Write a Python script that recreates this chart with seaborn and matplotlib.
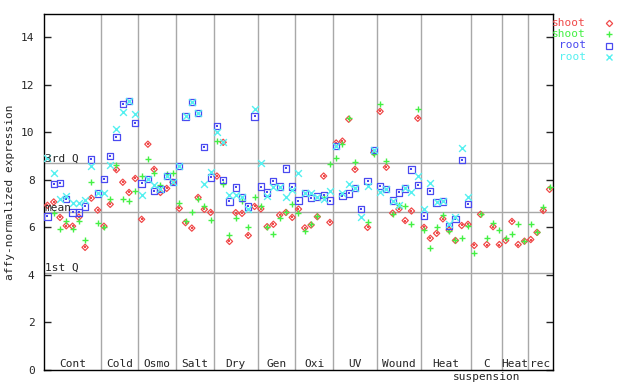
import numpy as np
import pandas as pd
import matplotlib
matplotlib.use("Agg")
import matplotlib.pyplot as plt
import seaborn as sns

# groups along the x axis (number of samples in each)
groups = ['Cont', 'Cold', 'Osmo', 'Salt', 'Dry', 'Gen', 'Oxi', 'UV', 'Wound', 'Heat', 'C', 'Heat', 'rec']
group_sizes = [9, 6, 6, 6, 7, 6, 6, 7, 7, 8, 5, 4, 4]

nan = np.nan
shoot_red = [6.93, 7.07, 6.42, 6.07, 6.05, 6.43, 5.16, 7.23, 6.73,
             6.05, 6.97, 8.43, 7.90, 7.47, 8.06,
             6.34, 9.50, 8.44, 7.47, 7.64, 7.90,
             6.80, 6.20, 5.97, 7.26, 6.76, 6.63,
             8.16, 9.58, 5.41, 6.62, 6.59, 5.66, 6.88,
             6.78, 6.03, 6.13, 6.52, 6.63, 6.42,
             6.77, 5.98, 6.10, 6.45, 8.16, 6.21,
             9.55, 9.63, 10.55, 8.44, nan, 6.00, 9.15,
             10.88, 8.53, 6.60, 6.77, 6.29, 6.69, 10.59,
             6.00, 5.54, 5.75, 6.36, 5.89, 5.45, 6.08, 6.13,
             5.24, 6.55, 5.28, 6.03, 5.28,
             5.45, 6.25, 5.28, 5.42,
             5.49, 5.79, 6.71, 7.60]
shoot_green = [nan, 6.59, 5.93, 6.27, 5.93, 6.27, 5.47, 7.89, 6.17,
               6.03, 7.18, 8.61, 7.18, 7.10, 7.52,
               8.16, 8.87, 8.30, 7.77, 8.24, 8.27,
               7.01, 6.27, 6.63, 7.18, 6.90, 6.31,
               9.62, 7.82, 5.66, 6.38, 7.09, 6.00, 7.30,
               6.88, 6.03, 5.71, 6.41, 6.66, 6.97,
               6.62, 5.84, 6.13, 6.50, 7.30, 8.66,
               8.90, 9.49, 10.59, 8.74, nan, 6.21, 9.07,
               11.18, 8.79, 6.56, 6.94, 6.90, 6.15, 11.00,
               5.88, 5.12, 6.00, 6.54, 5.83, 5.45, 5.54, 6.05,
               4.92, 6.55, 5.54, 6.17, 5.87,
               5.56, 5.72, 6.13, 5.42,
               6.13, 5.79, 6.84, 7.68]
root_blue = [6.46, 7.82, 7.86, 7.18, 6.63, 6.63, 6.88, 8.86, 7.43,
             8.02, 9.00, 9.80, 11.18, 11.32, 10.38,
             7.85, 8.05, 7.52, 7.63, 8.16, 7.90,
             8.58, 10.67, 11.26, 10.83, 9.37, 8.10,
             10.25, 7.98, 7.09, 7.68, 7.26, 6.88, 10.67,
             7.72, 7.47, 7.94, 7.72, 8.48, 7.72,
             7.13, 7.44, 7.25, 7.30, 7.35, 7.13,
             9.42, 7.33, 7.43, 7.67, 6.76, 7.95, 9.25,
             7.74, 7.60, 7.13, 7.47, 7.64, 8.44, 7.77,
             6.50, 7.52, 7.05, 7.09, 6.05, 6.34, 8.82, 6.97] + [nan] * 13
root_cyan = [8.90, 8.29, 7.18, 7.31, 7.01, 7.01, 7.15, 8.57, 7.43,
             7.44, 8.62, 10.14, 10.84, 11.30, 10.76,
             7.36, 8.05, 7.77, 7.63, 8.16, 7.90,
             8.58, 10.67, 11.26, 10.83, 7.81, 8.32,
             10.00, 9.60, 7.35, 7.38, 7.26, 6.76, 11.00,
             8.69, 7.32, 7.72, 7.72, 7.29, 7.57,
             8.27, 7.44, 7.43, 7.30, 7.20, 7.53,
             9.42, 7.43, 7.82, 7.67, 6.45, 7.74, 9.25,
             7.50, 7.60, 7.13, 6.93, 7.64, 7.47, 8.15,
             6.77, 7.85, 7.05, 7.09, 6.15, 6.45, 9.33, 7.26] + [nan] * 13

q1, q_mean, q3 = 4.10, 6.63, 8.69

n = sum(group_sizes)
x = np.arange(n) + 0.5
series = [('shoot', shoot_red, '#f04a4a', 'D'),
          ('shoot', shoot_green, '#44f044', '+'),
          ('root', root_blue, '#4a4af0', 's'),
          ('root', root_cyan, '#55f0f0', 'x')]

sns.set_style("ticks")
plt.rcParams['font.family'] = ['DejaVu Sans Mono']

fig = plt.figure(figsize=(6.4, 3.84), dpi=100)
ax = fig.add_axes([44.3 / 640, 1 - 370 / 384, 508.4 / 640, 356.5 / 384])

grid_c = '#a8a8a8'
bounds = np.cumsum(group_sizes)
for b in bounds[:-1]:
    ax.axvline(b, color=grid_c, lw=1, zorder=1)
for q in (q1, q_mean, q3):
    ax.axhline(q, color=grid_c, lw=1, zorder=1)

for name, vals, col, mk in series:
    d = pd.DataFrame({'x': x, 'value': vals}).dropna()
    if mk in ('D', 's'):
        sz = 10 if mk == 'D' else 20
        sns.scatterplot(data=d, x='x', y='value', marker=mk, s=sz, color=col,
                        facecolor='none', edgecolor=col, linewidth=0.9, ax=ax,
                        legend=False, zorder=3)
        sns.scatterplot(data=d, x='x', y='value', marker='s', s=1.2, color=col,
                        linewidth=0, ax=ax, legend=False, zorder=3)
    else:
        sns.scatterplot(data=d, x='x', y='value', marker=mk, s=24, color=col,
                        linewidth=1, ax=ax, legend=False, zorder=3)

ax.set_xlim(0, n)
ax.set_ylim(0, 15)
ax.set_xticks([])
ax.set_yticks(range(0, 15, 2))
ax.tick_params(axis='y', direction='in', length=5, width=1, pad=7,
               labelsize=8, right=True, left=True)
for sp in ax.spines.values():
    sp.set_visible(True)
    sp.set_color('black')
    sp.set_linewidth(1)
ax.set_xlabel('')
ax.set_ylabel('affy-normalized expression', fontsize=8)
ax.yaxis.set_label_coords(-0.057, 0.5)

# group labels
starts = np.concatenate([[0], bounds[:-1]])
for g, s0, s1 in zip(groups, starts, bounds):
    ax.text((s0 + s1) / 2, 0.25, g, ha='center', va='center', fontsize=8)
ax.text((starts[10] + bounds[10]) / 2, -0.29, 'suspension', ha='center',
        va='center', fontsize=8, clip_on=False)

# quartile labels
for lab, q in (('3rd Q', q3), ('mean', q_mean), ('1st Q', q1)):
    ax.text(0.08, q + 0.08, lab, ha='left', va='baseline', fontsize=8, zorder=4)

# legend
for k, (name, vals, col, mk) in enumerate(series):
    yy = 1 - (23.3 + k * 11.1) / 384
    fig.text(586 / 640, yy, name, color=col, ha='right', va='center', fontsize=8)
    if mk in ('D', 's'):
        fig.lines.append(plt.Line2D([609 / 640], [yy], marker=mk, ms=3.2 if mk == 'D' else 4.5,
                                    mfc='none', mec=col, mew=0.9, ls='none',
                                    transform=fig.transFigure))
    else:
        fig.lines.append(plt.Line2D([609 / 640], [yy], marker=mk, ms=5, mec=col,
                                    mew=1, ls='none', transform=fig.transFigure))

fig.savefig('out.png', dpi=100)
